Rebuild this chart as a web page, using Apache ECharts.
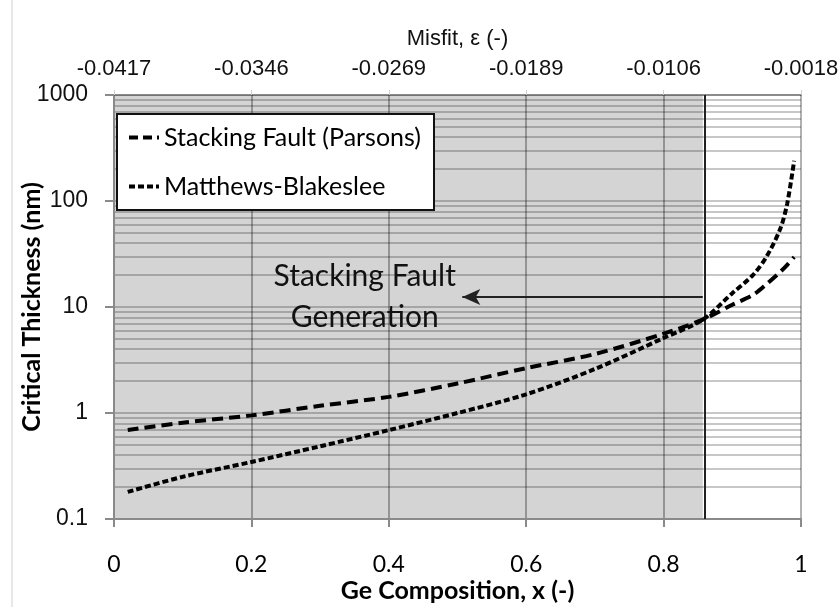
<!DOCTYPE html>
<html>
<head>
<meta charset="utf-8">
<script src="https://cdn.jsdelivr.net/npm/echarts@6/dist/echarts.min.js"></script>
<style>
  html, body { margin: 0; padding: 0; background: #fff; }
  #chart { width: 840px; height: 607px; }
</style>
</head>
<body>
<div id="chart"></div>
<script>
// Ge composition (x) sample points
const geComposition = [0.02, 0.1, 0.2, 0.3, 0.4, 0.5, 0.6, 0.7, 0.8, 0.857, 0.9, 0.93, 0.95, 0.97, 0.98, 0.99];
// Critical thickness (nm), stacking fault model (Parsons)
const stackingFault = [0.69, 0.81, 0.95, 1.17, 1.42, 1.9, 2.65, 3.6, 5.6, 7.6, 10.5, 13, 16.5, 21.5, 25, 29.6];
// Critical thickness (nm), Matthews-Blakeslee model
const matthewsBlakeslee = [0.18, 0.25, 0.345, 0.485, 0.69, 1.0, 1.5, 2.6, 5.1, 7.6, 13.5, 20, 30, 55, 95, 240];
// Misfit values shown on the top axis at x = 0, 0.2, ... 1
const misfitLabels = ['-0.0417', '-0.0346', '-0.0269', '-0.0189', '-0.0106', '-0.0018'];
// Decades of the thickness axis
const decades = [0.1, 1, 10, 100];
// Composition where stacking faults start to dominate
const transitionX = [0.857];
// Arrow from the transition line towards lower composition
const arrowX = [0.857, 0.507];
const arrowY = [12.4];
const noteText = ['Stacking Fault\nGeneration'];
const noteAt = [0.365, 12.6];

const pairs = (xs, ys) => xs.map((x, i) => [x, ys[i]]);

// Minor log gridlines at 2..9 times each decade, spanning the full x range
const minorGrid = [];
decades.forEach(d => {
  for (let k = 2; k <= 9; k++) {
    const v = +(k * d).toPrecision(3);
    minorGrid.push([{ coord: [0, v] }, { coord: [1, v] }]);
  }
});

const chart = echarts.init(document.getElementById('chart'), null, { renderer: 'canvas' });

const hLine = 'rgba(0,0,0,0.22)';
const vLine = 'rgba(0,0,0,0.3)';
const legendNames = ['Stacking Fault (Parsons)', 'Matthews-Blakeslee'];

chart.setOption({
  animation: false,
  backgroundColor: '#fff',
  grid: { left: 114, right: 39, top: 95, bottom: 88, outerBoundsMode: 'none', containLabel: false },
  legend: {
    data: [
      { name: legendNames[0], lineStyle: { type: [9, 5], width: 4, color: '#000' } },
      { name: legendNames[1], lineStyle: { type: [6, 3], width: 4, color: '#000' } }
    ],
    orient: 'vertical',
    left: 117,
    top: 114,
    itemWidth: 30,
    itemHeight: 14,
    itemGap: 24,
    padding: [11, 13, 11, 10],
    backgroundColor: '#fff',
    borderColor: '#111',
    borderWidth: 2,
    itemStyle: { opacity: 0 },
    textStyle: { fontFamily: 'Lato', fontSize: 25, color: '#000' }
  },
  graphic: [{
    type: 'line',
    shape: { x1: 12, y1: 0, x2: 12, y2: 607 },
    style: { stroke: '#d0d0d0', lineWidth: 1 }
  }],
  xAxis: [{
    type: 'value',
    position: 'bottom',
    min: 0, max: 1, interval: 0.2,
    name: 'Ge Composition, x (-)',
    nameLocation: 'middle',
    nameGap: 59,
    nameMoveOverlap: false,
    nameTextStyle: { fontFamily: 'Lato', fontWeight: 'bold', fontSize: 25, color: '#000' },
    axisLine: { show: true, lineStyle: { color: '#8a8a8a', width: 2 } },
    axisTick: { show: true, length: 8, lineStyle: { color: '#8a8a8a', width: 2 } },
    axisLabel: { margin: 34, fontFamily: 'Lato', fontSize: 23, color: '#000',
      formatter: v => String(Math.round(v * 10) / 10) },
    splitLine: { show: true, lineStyle: { color: vLine, width: 2 } }
  }, {
    type: 'value',
    position: 'top',
    min: 0, max: 1, interval: 0.2,
    name: 'Misfit, ε (-)',
    nameLocation: 'middle',
    nameGap: 45,
    nameMoveOverlap: false,
    nameTextStyle: { fontFamily: 'Liberation Sans', fontSize: 22, color: '#111' },
    axisLine: { show: true, lineStyle: { color: vLine, width: 2 } },
    axisTick: { show: true, length: 5, lineStyle: { color: '#d0d0d0', width: 1 } },
    axisLabel: { margin: 15, fontFamily: 'Liberation Sans', fontSize: 22, color: '#111',
      formatter: v => misfitLabels[Math.round(v / 0.2)] },
    splitLine: { show: false }
  }],
  yAxis: {
    type: 'log',
    logBase: 10,
    min: 0.1, max: 1000,
    name: 'Critical Thickness (nm)',
    nameLocation: 'middle',
    nameGap: 70,
    nameMoveOverlap: false,
    nameTextStyle: { fontFamily: 'Lato', fontWeight: 'bold', fontSize: 25, color: '#000' },
    axisLine: { show: true, lineStyle: { color: '#8a8a8a', width: 2 } },
    axisTick: { show: true, length: 9, lineStyle: { color: '#8a8a8a', width: 2 } },
    axisLabel: { margin: 26, fontFamily: 'Liberation Sans', fontSize: 23, color: '#111',
      formatter: v => String(v) },
    splitLine: { show: true, lineStyle: { color: hLine, width: 2 } },
    minorTick: { show: false },
    minorSplitLine: { show: false }
  },
  series: [{
    name: legendNames[0],
    type: 'line',
    data: pairs(geComposition, stackingFault),
    smooth: 0.3,
    symbol: 'none',
    z: 3,
    lineStyle: { color: '#000', width: 4, type: [11, 6] },
    itemStyle: { color: '#000' }
  }, {
    name: legendNames[1],
    type: 'line',
    data: pairs(geComposition, matthewsBlakeslee),
    smooth: 0.3,
    symbol: 'none',
    z: 3,
    lineStyle: { color: '#000', width: 4, type: [6, 3] },
    itemStyle: { color: '#000' }
  }, {
    // shaded stacking-fault region and minor log gridlines
    name: 'background',
    type: 'line',
    data: [],
    silent: true,
    markArea: {
      z: -1,
      silent: true,
      itemStyle: { color: '#d4d4d4' },
      data: [[{ xAxis: 0 }, { xAxis: transitionX[0] }]]
    },
    markLine: {
      z: 0,
      silent: true,
      symbol: ['none', 'none'],
      label: { show: false },
      lineStyle: { color: hLine, width: 2, type: 'solid' },
      data: minorGrid
    }
  }, {
    // transition line, arrow and note
    name: 'annotations',
    type: 'line',
    data: [],
    silent: true,
    markLine: {
      z: 2,
      silent: true,
      symbol: ['none', 'none'],
      label: { show: false },
      lineStyle: { color: '#222', width: 2, type: 'solid' },
      data: [
        { xAxis: transitionX[0] },
        [
          { coord: [arrowX[0], arrowY[0]], symbol: 'none' },
          { coord: [arrowX[1], arrowY[0]], symbol: 'arrow', symbolSize: [12, 18] }
        ]
      ]
    },
    markPoint: {
      z: 2,
      silent: true,
      symbol: 'circle',
      symbolSize: 0,
      label: {
        show: true, position: 'inside',
        formatter: noteText[0],
        fontFamily: 'Lato', fontSize: 30, lineHeight: 41, color: '#111'
      },
      data: [{ coord: noteAt }]
    }
  }]
});
</script>
</body>
</html>
